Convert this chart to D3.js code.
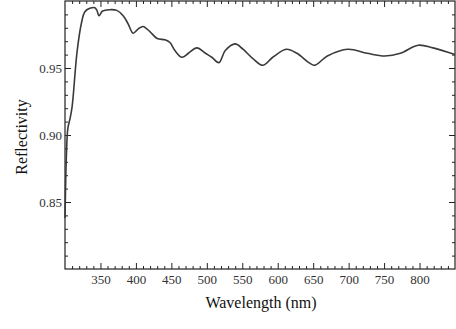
<!DOCTYPE html>
<html>
<head>
<meta charset="utf-8">
<script src="https://cdn.jsdelivr.net/npm/d3@7"></script>
<style>
  body { margin: 0; background: #fff; }
  text { font-family: "Liberation Serif", "Times New Roman", serif; }
</style>
</head>
<body>
<svg id="chart" width="456" height="329"></svg>
<script>
// wavelength (nm) and reflectivity
var wavelength = [300, 302, 304, 307, 310, 317, 323, 328, 335, 342, 345, 348, 353, 363, 373, 382, 389, 396,
  403, 410, 420, 430, 441, 448, 455, 465, 474, 486, 498, 507, 517, 526, 540, 551, 565, 579, 593,
  612, 627, 644, 652, 670, 699, 726, 751, 773, 798, 819, 850];
var reflectivity = [0.838, 0.885, 0.905, 0.912, 0.921, 0.962, 0.983, 0.992, 0.9945, 0.995, 0.993, 0.989, 0.9925,
  0.9935, 0.993, 0.989, 0.983, 0.976, 0.979, 0.981, 0.977, 0.972, 0.971, 0.969, 0.963, 0.958, 0.961,
  0.965, 0.961, 0.958, 0.954, 0.963, 0.968, 0.964, 0.957, 0.952, 0.958, 0.964, 0.961, 0.954, 0.952,
  0.959, 0.964, 0.961, 0.959, 0.961, 0.967, 0.965, 0.960];
var xMajor = [350, 400, 450, 500, 550, 600, 650, 700, 750, 800];
var yMajor = [0.85, 0.90, 0.95];

var padL = 65, padR = 455, padT = 1, padB = 269;
var svg = d3.select("#chart");

var x = d3.scaleLinear().domain([300, 850]).range([padL, padR]);
var y = d3.scaleLinear().domain([0.80, 1.00]).range([padB, padT]);

var xMinor = d3.range(310, 850, 10).filter(function(v) { return v % 50 != 0; });
var yMinor = d3.range(81, 100).map(function(v) { return v / 100; }).filter(function(v) { return Math.round(v * 100) % 5 != 0; });

function tickStyle(g) {
  g.select(".domain").remove();
  g.selectAll("line").attr("stroke", "#222");
}

// bottom
svg.append("g").attr("transform", "translate(0," + padB + ")")
  .call(d3.axisBottom(x).tickValues(xMajor).tickSize(-6).tickPadding(6).tickFormat(d3.format("d")))
  .call(tickStyle)
  .selectAll("text").attr("font-size", 13).attr("fill", "#333")
  .style("font-family", "Liberation Serif, serif");
svg.append("g").attr("transform", "translate(0," + padB + ")")
  .call(d3.axisBottom(x).tickValues(xMinor).tickSize(-3).tickFormat(""))
  .call(tickStyle);
// top
svg.append("g").attr("transform", "translate(0," + padT + ")")
  .call(d3.axisTop(x).tickValues(xMajor).tickSize(-6).tickFormat(""))
  .call(tickStyle);
svg.append("g").attr("transform", "translate(0," + padT + ")")
  .call(d3.axisTop(x).tickValues(xMinor).tickSize(-3).tickFormat(""))
  .call(tickStyle);
// left
svg.append("g").attr("transform", "translate(" + padL + ",0)")
  .call(d3.axisLeft(y).tickValues(yMajor).tickSize(-6).tickPadding(3).tickFormat(d3.format(".2f")))
  .call(tickStyle)
  .selectAll("text").attr("font-size", 13).attr("fill", "#333")
  .style("font-family", "Liberation Serif, serif");
svg.append("g").attr("transform", "translate(" + padL + ",0)")
  .call(d3.axisLeft(y).tickValues(yMinor).tickSize(-3).tickFormat(""))
  .call(tickStyle);
// right
svg.append("g").attr("transform", "translate(" + padR + ",0)")
  .call(d3.axisRight(y).tickValues(yMajor).tickSize(-6).tickFormat(""))
  .call(tickStyle);
svg.append("g").attr("transform", "translate(" + padR + ",0)")
  .call(d3.axisRight(y).tickValues(yMinor).tickSize(-3).tickFormat(""))
  .call(tickStyle);

// frame
svg.append("rect")
  .attr("x", padL).attr("y", padT)
  .attr("width", padR - padL).attr("height", padB - padT)
  .attr("fill", "none").attr("stroke", "#222").attr("stroke-width", 1.2);

// curve
var pts = wavelength.map(function(w, i) { return [w, reflectivity[i]]; });
var line = d3.line()
  .x(function(d) { return x(d[0]); })
  .y(function(d) { return y(d[1]); })
  .curve(d3.curveCatmullRom.alpha(0.5));

svg.append("path")
  .datum(pts)
  .attr("d", line)
  .attr("fill", "none")
  .attr("stroke", "#3a3a3a")
  .attr("stroke-width", 1.6);

// titles
svg.append("text")
  .attr("x", 261).attr("y", 308)
  .attr("text-anchor", "middle")
  .attr("font-size", 16)
  .attr("fill", "#111")
  .text("Wavelength (nm)");

svg.append("text")
  .attr("transform", "translate(27,137) rotate(-90)")
  .attr("text-anchor", "middle")
  .attr("font-size", 16)
  .attr("fill", "#111")
  .text("Reflectivity");
</script>
</body>
</html>
